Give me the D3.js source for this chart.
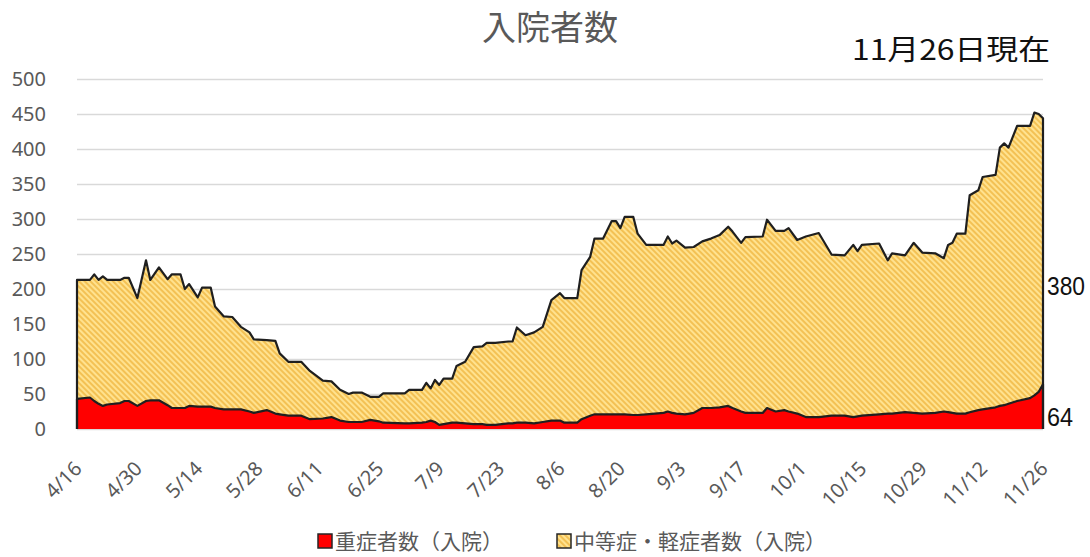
<!DOCTYPE html>
<html>
<head>
<meta charset="utf-8">
<script src="https://cdn.jsdelivr.net/npm/d3@7"></script>
<style>
  body { margin: 0; background: #fff; }
  svg { display: block; font-family: "Noto Sans CJK JP", "Noto Sans", sans-serif; }
</style>
</head>
<body>
<svg id="chart" width="1090" height="557"></svg>
<script>
const dates = [
  "4/16","4/19","4/20","4/21","4/22","4/23","4/26","4/27","4/28","4/30",
  "5/2","5/3","5/5","5/7","5/8","5/10","5/11","5/12","5/14","5/15",
  "5/17","5/18","5/20","5/22","5/24","5/26","5/27","5/30","6/1","6/2",
  "6/4","6/7","6/9","6/12","6/14","6/16","6/18","6/19","6/21","6/23",
  "6/25","6/26","7/1","7/2","7/5","7/6","7/7","7/8","7/9","7/10",
  "7/12","7/13","7/15","7/17","7/19","7/20","7/22","7/25","7/26","7/27",
  "7/29","7/31","8/2","8/4","8/6","8/7","8/10","8/11","8/13","8/14",
  "8/16","8/18","8/19","8/20","8/21","8/23","8/24","8/26","8/30","8/31",
  "9/1","9/2","9/4","9/6","9/8","9/10","9/12","9/14","9/15","9/17",
  "9/18","9/22","9/23","9/25","9/27","9/28","9/30","10/2","10/5","10/8",
  "10/11","10/13","10/14","10/15","10/19","10/21","10/22","10/25","10/27","10/29",
  "11/1","11/3","11/4","11/5","11/6","11/8","11/9","11/11","11/12","11/15",
  "11/16","11/17","11/18","11/20","11/23","11/24","11/25","11/26"
]
const severe = [
  43,45,40,36,33,35,37,40,40,33,
  40,41,41,34,30,30,30,33,32,32,
  32,30,28,28,28,25,23,27,22,21,
  19,19,14,15,17,12,10,10,10,13,
  11,9,8,8,9,10,12,10,6,7,
  9,9,8,7,7,6,6,8,8,9,
  9,8,10,12,12,9,9,14,19,21,
  21,21,21,21,21,20,20,21,23,25,
  23,22,21,23,30,30,31,33,30,25,
  23,23,30,25,27,25,22,17,17,19,
  19,17,18,19,21,22,22,24,23,22,
  23,25,24,23,22,22,24,27,28,31,
  33,34,36,40,44,48,53,64
]
const moderate = [
  170,168,181,177,185,178,176,176,176,154,
  201,172,190,180,191,191,170,174,156,170,
  170,145,133,132,118,113,105,100,104,87,
  77,77,69,54,51,44,40,42,42,33,
  35,42,43,48,47,56,46,60,57,65,
  63,81,88,110,111,117,117,117,117,136,
  125,130,136,172,182,178,178,213,227,251,
  251,276,276,266,282,283,259,242,240,250,
  242,247,238,237,238,242,246,256,252,241,
  251,252,269,258,256,262,248,258,263,230,
  229,246,236,244,244,219,229,224,243,230,
  228,219,239,243,257,257,310,314,332,332,
  369,374,366,393,389,404,397,380
]
const xTickLabels = ["4/16","4/30","5/14","5/28","6/11","6/25","7/9","7/23","8/6",
  "8/20","9/3","9/17","10/1","10/15","10/29","11/12","11/26"]
const yTicks = [0, 50, 100, 150, 200, 250, 300, 350, 400, 450, 500]
const seriesNames = ["重症者数（入院）", "中等症・軽症者数（入院）"]
const title = "入院者数"
const asOf = "11月26日現在"

const parse = d => d3.timeParse("%Y/%m/%d")("2020/" + d)
const rows = dates.map((d, i) => ({date: parse(d), severe: severe[i], moderate: moderate[i]}))
const last = rows[rows.length - 1]

const svg = d3.select("#chart")
const margin = {left: 77, right: 47, top: 79, bottom: 128}
const width = 1090, height = 557

const x = d3.scaleTime()
  .domain([parse(xTickLabels[0]), parse(xTickLabels[xTickLabels.length - 1])])
  .range([margin.left, width - margin.right])
const y = d3.scaleLinear().domain([0, 500]).range([height - margin.bottom, margin.top])

// hatch for the yellow series
const defs = svg.append("defs")
const pat = defs.append("pattern")
  .attr("id", "hatch")
  .attr("patternUnits", "userSpaceOnUse")
  .attr("width", 4).attr("height", 4)
  .attr("patternTransform", "rotate(-45)")
pat.append("rect").attr("width", 4).attr("height", 4).attr("fill", "#ffe28f")
pat.append("line").attr("x1", 1).attr("x2", 1).attr("y1", 0).attr("y2", 4)
  .attr("stroke", "#eeb33a").attr("stroke-width", 1.4)

// grid + y labels
svg.append("g")
  .attr("transform", `translate(${margin.left},0)`)
  .call(d3.axisLeft(y).tickValues(yTicks).tickSize(-(width - margin.left - margin.right)).tickPadding(31))
  .call(g => g.select(".domain").remove())
  .call(g => g.selectAll(".tick line").attr("stroke", "#d9d9d9").attr("stroke-width", 1.5))
  .call(g => g.selectAll(".tick text")
    .attr("fill", "#595959").attr("font-size", 20).attr("font-family", "'Noto Sans', sans-serif"))

// stacked areas
const stack = d3.stack().keys(["severe", "moderate"])
const layers = stack(rows)
const fills = ["#ff0000", "url(#hatch)"]

const area = d3.area()
  .x(d => x(d.data.date))
  .y0(d => y(d[0]))
  .y1(d => y(d[1]))

svg.append("g").selectAll("path")
  .data(layers.slice().reverse())
  .join("path")
  .attr("d", area)
  .attr("fill", d => fills[d.index])

// outlines: top of each layer plus the two side edges
const outline = d3.line().x(d => x(d[0])).y(d => y(d[1]))
layers.forEach(layer => {
  const pts = layer.map(d => [d.data.date, d[1]])
  pts.unshift([rows[0].date, 0])
  pts.push([last.date, 0])
  svg.append("path")
    .attr("d", outline(pts))
    .attr("fill", "none")
    .attr("stroke", "#1f1f1f")
    .attr("stroke-width", 2.2)
    .attr("stroke-linejoin", "round")
})

// x labels
const xAxis = svg.append("g")
xAxis.selectAll("text")
  .data(xTickLabels)
  .join("text")
  .attr("transform", d => `translate(${x(parse(d)) + 6},${y(0) + 41}) rotate(-45)`)
  .attr("text-anchor", "end")
  .attr("fill", "#595959")
  .attr("font-size", 20)
  .attr("font-family", "'Noto Sans', sans-serif")
  .text(d => d)

// title and date stamp
svg.append("text")
  .attr("x", 550).attr("y", 40)
  .attr("text-anchor", "middle")
  .attr("fill", "#595959")
  .attr("font-size", 34)
  .text(title)

svg.append("text")
  .attr("x", 852).attr("y", 60)
  .attr("fill", "#111")
  .attr("font-size", 28)
  .attr("textLength", 198)
  .attr("lengthAdjust", "spacingAndGlyphs")
  .text(asOf)

// end-of-series labels
const endLabels = [
  {text: String(last.moderate), v: 205, w: 38},
  {text: String(last.severe), v: 17, w: 26}
]
svg.append("g").selectAll("text")
  .data(endLabels)
  .join("text")
  .attr("x", x(last.date) + 4)
  .attr("y", d => y(d.v))
  .attr("dy", "0.36em")
  .attr("fill", "#111")
  .attr("font-size", 26)
  .attr("font-family", "'Liberation Sans', sans-serif")
  .attr("textLength", d => d.w)
  .attr("lengthAdjust", "spacingAndGlyphs")
  .text(d => d.text)

// legend
const legend = svg.append("g")
const legendX = [318, 557]
seriesNames.forEach((name, i) => {
  const g = legend.append("g").attr("transform", `translate(${legendX[i]},534)`)
  g.append("rect")
    .attr("width", 14).attr("height", 14)
    .attr("fill", fills[i])
    .attr("stroke", "#262626").attr("stroke-width", 1.5)
  g.append("text")
    .attr("x", 17).attr("y", 7).attr("dy", "0.36em")
    .attr("fill", "#595959")
    .attr("font-size", 21)
    .text(name)
})
</script>
</body>
</html>
